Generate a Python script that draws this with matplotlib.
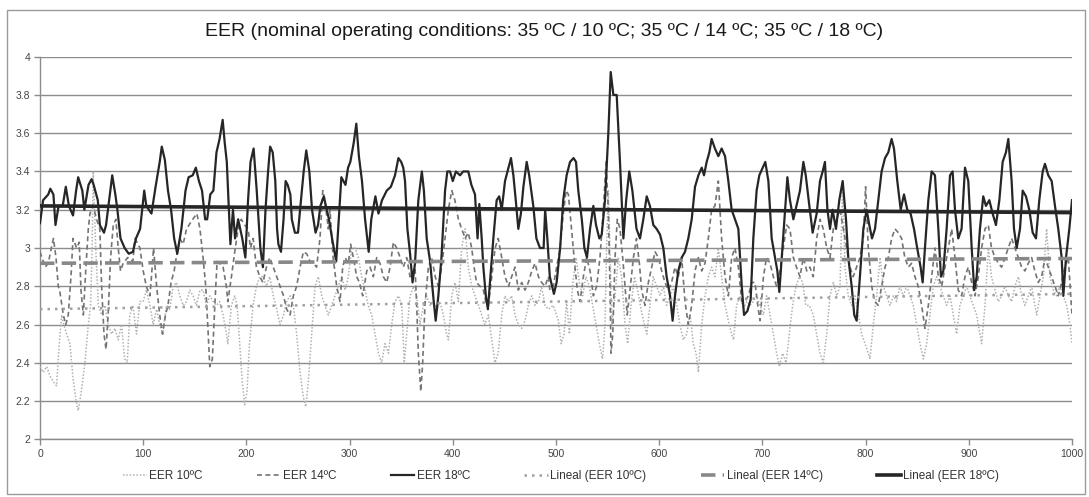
import matplotlib
matplotlib.use("Agg")
import matplotlib.pyplot as plt
from matplotlib.patches import Rectangle

# ---- data (x = sample index, y = EER) ----
EER18 = [(0,3.13),(3,3.25),(8,3.28),(10,3.31),(13,3.28),(15,3.12),(18,3.22),(22,3.22),(25,3.32),(28,3.22),
 (32,3.17),(35,3.30),(37,3.37),(41,3.30),(43,3.20),(47,3.33),(50,3.36),(52,3.33),(54,3.29),(56,3.25),
 (58,3.12),(62,3.08),(64,3.12),(67,3.25),(70,3.38),(73,3.28),(75,3.20),(78,3.05),(82,3.00),(86,2.97),
 (90,2.98),(93,3.05),(97,3.10),(99,3.20),(101,3.30),(103,3.22),(108,3.18),(112,3.32),(116,3.45),(118,3.53),
 (121,3.46),(124,3.30),(127,3.20),(130,3.05),(133,2.97),(137,3.10),(141,3.30),(144,3.37),(148,3.38),(151,3.42),
 (154,3.35),(157,3.30),(160,3.15),(162,3.15),(165,3.28),(168,3.30),(171,3.50),(174,3.57),(177,3.67),(179,3.55),
 (181,3.45),(184.5,3.02),(187,3.20),(189,3.05),(192,3.15),(196,3.05),(199,2.95),(201.6,3.25),(204,3.45),(207,3.52),
 (210,3.30),(213.5,3.00),(216,2.90),(218.5,3.20),(221,3.40),(223,3.53),(225.5,3.50),(228,3.35),(229.7,3.10),(231,3.02),
 (233.5,2.98),(236,3.15),(238,3.35),(240,3.33),(242.6,3.28),(244,3.15),(247,3.08),(250,3.08),(252,3.20),(255.5,3.40),
 (258,3.51),(261,3.40),(263.6,3.20),(267,3.08),(269.4,3.12),(271.7,3.22),(275,3.27),(277,3.22),(280,3.15),(283,3.05),
 (287,2.93),(289.5,3.15),(292,3.37),(296,3.33),(298.5,3.42),(300.7,3.45),(304,3.55),(306.5,3.65),(309,3.48),(312,3.35),
 (315,3.15),(318.5,2.98),(321,3.15),(325,3.27),(328,3.18),(331.4,3.25),(336,3.30),(340,3.32),(344,3.38),(347.3,3.47),
 (350,3.45),(352,3.42),(353.7,3.35),(356,3.10),(358.6,2.97),(361,2.82),(363.4,2.92),(366.6,3.25),(370,3.40),(372,3.30),
 (374.7,3.05),(378,2.93),(381,2.75),(383.4,2.62),(386,2.75),(389,2.95),(392.5,3.30),(394.7,3.40),(397.3,3.40),(400,3.35),
 (403,3.40),(407,3.38),(410,3.40),(415,3.40),(418,3.33),(421.5,3.28),(424,3.05),(425.7,3.23),(428,3.05),(429.6,2.90),
 (432,2.75),(434,2.68),(436,2.82),(439.3,3.05),(442.5,3.25),(445,3.27),(447.4,3.20),(450.6,3.35),(454,3.42),(456.4,3.47),
 (458.7,3.38),(461,3.25),(463.5,3.10),(466,3.18),(468.4,3.32),(471.6,3.45),(474,3.38),(478,3.22),(481,3.05),(484.5,3.00),
 (488,3.00),(489.5,3.20),(491.6,3.05),(494,2.85),(498,2.76),(500.6,2.82),(504,3.00),(507,3.25),(510.3,3.38),(513.6,3.45),
 (517,3.47),(519.4,3.45),(521.6,3.30),(525,3.15),(527.5,3.00),(530,2.95),(533,3.10),(536.2,3.22),(538.8,3.12),(542,3.05),
 (544.3,3.07),(547.5,3.25),(550.7,3.60),(553,3.92),(555.6,3.80),(558.8,3.80),(562,3.45),(565.3,3.05),(568,3.25),(571,3.40),
 (574,3.30),(578,3.10),(581.4,3.05),(584.6,3.15),(587.9,3.27),(591,3.22),(594.3,3.12),(597.5,3.10),(600.8,3.07),(604,3.00),
 (607.2,2.85),(610.5,2.75),(613,2.62),(615.3,2.75),(618.5,2.88),(621.8,2.95),(625,2.98),(628.2,3.05),(631.5,3.15),(634.7,3.32),
 (638,3.38),(641.2,3.42),(643.4,3.38),(646,3.45),(648.6,3.50),(650.8,3.57),(654,3.52),(657.3,3.48),(660.5,3.52),(663.8,3.48),
 (667,3.35),(670.2,3.20),(673.4,3.15),(676.7,3.10),(680,2.80),(682.2,2.65),(685.4,2.67),(688.6,2.73),(691.2,3.05),(694.4,3.30),
 (697,3.38),(700.3,3.42),(702.8,3.45),(705.8,3.35),(709,3.05),(712.2,2.95),(714.5,2.88),(716.4,2.77),(718.7,2.95),(722,3.20),
 (724.2,3.37),(726.7,3.25),(730,3.15),(733,3.22),(736.4,3.30),(739.7,3.45),(742,3.38),(745.5,3.22),(748.7,3.08),(752.6,3.18),
 (755.8,3.35),(758.4,3.40),(760.6,3.45),(763,3.20),(765.5,3.10),(768,3.20),(771.3,3.10),(774.5,3.25),(777.8,3.35),(781,3.15),
 (783.2,2.95),(786.5,2.80),(789,2.65),(791.3,2.62),(794.5,2.85),(797.8,3.10),(801,3.20),(803.6,3.12),(806.2,3.05),(809.1,3.10),
 (812.3,3.25),(815.5,3.40),(818.8,3.47),(822,3.50),(825.2,3.57),(827.5,3.52),(830.7,3.35),(834,3.20),(837.2,3.28),(840.4,3.20),
 (843.6,3.18),(846.9,3.10),(850,3.00),(853.3,2.90),(855.3,2.82),(857.5,3.00),(860.8,3.25),(864,3.40),(867.2,3.38),(870.5,3.10),
 (873,2.85),(875.3,2.88),(878.5,3.10),(881.8,3.38),(884.3,3.40),(886.6,3.20),(889.8,3.05),(893,3.10),(896.3,3.42),(899.5,3.35),
 (902.8,3.00),(905.3,2.78),(907.6,2.85),(910.8,3.10),(914,3.27),(916.6,3.22),(919.9,3.25),(923.1,3.18),(926.3,3.12),(929.6,3.25),
 (932.8,3.45),(936,3.50),(938.3,3.57),(941.5,3.35),(943.8,3.10),(946.4,3.00),(949.6,3.10),(952.2,3.30),(955.4,3.27),(958.6,3.20),
 (961.9,3.08),(965.1,3.05),(968.3,3.25),(971.6,3.40),(973.8,3.44),(977,3.38),(980.3,3.35),(983.5,3.22),(986.7,3.10),(990,2.95),
 (991.6,2.75),(994.2,2.95),(997.4,3.10),(1000,3.25)]

EER14 = [(0,2.98),(5,2.90),(8,2.92),(11,3.00),(13,3.05),(15.5,2.95),(17.7,2.80),(19,2.78),(22.6,2.65),(25,2.60),
 (27.4,2.65),(30,2.85),(32,3.05),(35.5,3.00),(38,3.03),(39.7,2.78),(42,2.65),(44.5,2.90),(46.8,3.10),(48.4,3.18),
 (51.6,3.22),(54.8,3.15),(58,3.10),(59.7,2.80),(62,2.55),(64,2.47),(66,2.65),(68.4,2.95),(71,3.12),(73.5,3.15),
 (75.8,3.00),(78,2.88),(80.6,2.92),(85,2.95),(90,2.93),(92,3.05),(96.8,3.00),(100,2.88),(103,2.80),(106.5,2.75),
 (108,2.85),(110,3.00),(113,2.80),(116,2.65),(118.7,2.55),(121.6,2.65),(124,2.70),(127,2.82),(130,2.88),(132,2.95),
 (135.5,3.05),(138.7,3.02),(142,3.10),(148,3.15),(152,3.18),(155,3.10),(158,2.95),(160.6,2.80),(163,2.55),(164.5,2.38),
 (167,2.42),(169.4,2.70),(171.6,2.93),(174,2.92),(177.4,2.90),(180.6,2.80),(182,2.72),(185.5,2.85),(188.7,2.98),(192,3.10),
 (195,3.15),(198.4,3.12),(201.6,3.10),(204,3.00),(206.5,3.05),(209.7,2.90),(213,2.85),(216,2.82),(219.4,2.90),(222.6,2.95),
 (226,2.90),(229.4,2.85),(232.6,2.80),(236,2.75),(239,2.68),(242.3,2.65),(245.5,2.75),(248.7,2.80),(252,2.90),(255.2,2.98),
 (258.4,2.97),(261.7,2.93),(265,2.92),(268,2.90),(271.3,3.05),(274,3.30),(276,3.25),(279.4,3.10),(281,3.20),(284,2.95),
 (287.5,2.80),(290.7,2.72),(293.3,2.90),(295.6,2.95),(298.8,2.92),(301,3.02),(303.6,2.95),(306.9,2.85),(309.5,2.82),(312.7,2.75),
 (316.6,2.88),(319.8,2.90),(323,2.85),(326.3,2.95),(329.5,2.92),(332.7,2.85),(336,2.82),(339.2,2.90),(342.4,3.03),(345.6,3.00),
 (349,2.95),(352,2.90),(355.3,2.95),(358.6,2.85),(363.4,2.90),(365,2.70),(366.6,2.45),(369,2.25),(370.8,2.40),(373,2.70),
 (376.3,2.90),(379.5,2.95),(383,2.85),(386,2.80),(389.2,2.90),(392.5,3.05),(395.7,3.20),(399,3.30),(402,3.25),(405.4,3.15),
 (408.6,3.10),(412,3.05),(415,3.08),(418.3,3.00),(420.6,2.90),(423,2.82),(426.4,2.80),(429.6,2.78),(432,2.72),(434.5,2.70),
 (437.7,2.85),(441,3.00),(444,3.05),(447.4,2.95),(450.6,2.85),(454,2.80),(457,2.85),(460.3,2.90),(463.5,2.78),(466.8,2.82),
 (470,2.78),(473.2,2.82),(476.5,2.88),(479.7,2.92),(483,2.85),(486,2.82),(489.4,2.80),(492.6,2.85),(494,2.78),(497.4,2.80),
 (500.6,2.90),(504,3.00),(506.5,3.15),(509.7,3.30),(512,3.28),(515,3.10),(518.4,2.90),(520.7,2.78),(523.3,2.72),(526.5,2.85),
 (529.7,2.95),(533,2.88),(536.2,2.75),(539.4,2.80),(542.6,2.95),(545.9,3.20),(548.5,3.45),(550.7,3.20),(552.3,2.80),(553.3,2.45),
 (555,2.55),(557.2,2.95),(559.4,3.15),(562,3.10),(564.6,2.95),(566.9,2.80),(569,2.65),(571.7,2.78),(575,2.95),(578,3.05),
 (580.8,2.92),(583,2.78),(586.2,2.70),(589.5,2.82),(592.7,2.90),(596,2.98),(599.2,2.95),(602.4,2.88),(605.6,2.82),(608.9,2.78),
 (612,2.82),(615.3,2.90),(618.5,2.85),(621.8,2.95),(625,2.72),(628.2,2.60),(631.5,2.70),(634.7,2.88),(638,2.95),(641.2,2.88),
 (644.4,2.92),(647.6,3.05),(650.8,3.20),(654,3.22),(657.3,3.35),(660.5,3.05),(663.8,2.85),(667,2.75),(670.2,2.95),(673.4,3.00),
 (676.7,2.90),(680,2.72),(683.1,2.72),(686.4,2.75),(689.6,2.82),(692.8,2.82),(696,2.68),(697.7,2.62),(701,2.85),(704,2.95),
 (707.4,2.92),(710.6,2.85),(713.8,2.80),(717,2.88),(720.3,3.00),(723.5,3.12),(726.7,3.10),(730,2.95),(733,2.90),(736.4,2.85),
 (739.7,2.95),(743,2.88),(746,2.90),(749.3,2.85),(752.6,3.05),(755.8,3.15),(759,3.10),(762.3,3.00),(765.5,2.95),(768.7,3.10),
 (772,3.15),(775.2,3.20),(778.4,3.10),(781.6,3.00),(784.9,2.90),(788,2.85),(791.3,2.90),(794.5,2.95),(797.8,3.05),(800,3.32),
 (802.6,3.00),(805.9,2.80),(809,2.72),(812.3,2.70),(815.5,2.80),(818.8,2.90),(822,2.95),(825.2,3.05),(828.5,3.10),(831.7,3.08),
 (834.9,3.05),(838,2.95),(841.4,2.90),(844.6,2.92),(847.8,2.85),(851,2.80),(854.3,2.70),(857.5,2.58),(860.8,2.70),(864,2.85),
 (867.2,3.00),(870.5,2.85),(873.7,2.80),(876.9,2.90),(880,3.00),(883.4,3.10),(886.6,2.95),(889.8,2.78),(893,2.75),(896.3,2.85),
 (899.5,2.90),(902.8,2.82),(906,2.75),(909.2,2.85),(912.4,3.00),(915.7,3.10),(918.9,3.12),(922,3.00),(925.4,2.95),(928.6,2.92),
 (931.8,2.90),(935,2.95),(938.3,3.00),(941.5,3.05),(944.7,3.00),(948,2.95),(951.2,2.90),(954.4,2.88),(957.6,2.92),(960.9,2.95),
 (964,2.88),(967.3,2.82),(970.6,2.85),(973.8,2.95),(977,2.90),(980.3,2.85),(983.5,2.80),(986.7,2.75),(990,2.82),(993,2.90),
 (996.4,2.95),(1000,2.65)]

EER10 = [(0,2.38),(3,2.35),(6.5,2.38),(9.7,2.33),(13,2.30),(16,2.28),(18.7,2.50),(21,2.65),(23,2.60),(25.8,2.55),
 (29,2.50),(32,2.32),(35,2.20),(37,2.15),(40,2.25),(43.5,2.40),(46.8,2.60),(49,2.70),(50.5,3.00),(51.6,3.40),
 (54,3.00),(56.5,2.70),(59.7,2.65),(63,2.70),(66,2.60),(69.4,2.55),(72.6,2.58),(75.8,2.52),(79,2.60),(82,2.42),
 (84.5,2.40),(87,2.65),(90,2.70),(93.5,2.55),(96.8,2.72),(100,2.72),(103,2.78),(106.5,2.70),(109.7,2.60),(113,2.68),
 (116,2.60),(119,2.55),(122.5,2.70),(125.8,2.68),(129,2.80),(132.2,2.82),(135.5,2.75),(138.7,2.70),(142,2.72),(145,2.78),
 (148.4,2.75),(151.6,2.70),(155,2.78),(158,2.78),(161.3,2.70),(164.5,2.75),(167.8,2.72),(171,2.70),(174,2.72),(177.4,2.65),
 (180.6,2.55),(182,2.50),(185.5,2.70),(188.7,2.75),(191,2.70),(193.5,2.50),(196,2.30),(198.4,2.18),(200.6,2.25),(203,2.50),
 (206.5,2.70),(209.7,2.80),(213,2.85),(216,2.85),(219.4,2.80),(222.6,2.85),(226,2.75),(229.4,2.68),(232.6,2.60),(236,2.65),
 (239,2.72),(242.3,2.75),(245.5,2.70),(248.7,2.55),(252,2.35),(255.2,2.22),(257.5,2.17),(260,2.30),(263.3,2.55),(266.5,2.80),
 (269.7,2.85),(273,2.75),(276,2.70),(279.4,2.65),(282.6,2.70),(285.9,2.75),(289,2.80),(292.3,2.85),(295.6,2.78),(298.8,2.85),
 (302,3.00),(305.3,3.00),(308.5,2.95),(311.7,2.85),(315,2.78),(318,2.70),(321.4,2.65),(324.6,2.55),(328,2.45),(331,2.40),
 (334.3,2.50),(337.6,2.45),(340.8,2.60),(344,2.72),(347.3,2.75),(350.5,2.70),(353,2.40),(355.3,2.55),(358.6,2.75),(362,2.80),
 (365,2.75),(368.2,2.60),(371.5,2.70),(374.7,2.75),(378,2.70),(381,2.72),(384.4,2.68),(387.6,2.72),(390.8,2.65),(394,2.55),
 (395.7,2.52),(399,2.75),(402,2.82),(405.4,2.72),(408.6,3.00),(412,3.10),(415,2.90),(418.3,2.80),(421.5,2.75),(425,2.70),
 (428,2.65),(431,2.60),(434.5,2.65),(437.7,2.52),(441,2.40),(444,2.45),(447.4,2.65),(450.6,2.75),(454,2.72),(457,2.75),
 (460.3,2.65),(463.5,2.60),(466.8,2.58),(470,2.62),(473.2,2.70),(476.5,2.75),(479.7,2.70),(483,2.72),(486,2.80),(489.4,2.70),
 (492.6,2.68),(497.4,2.70),(502.3,2.62),(505,2.50),(507.8,2.55),(510.3,2.72),(513,2.55),(516,2.80),(519.4,2.95),(522.6,2.82),
 (525.8,2.75),(529,2.85),(532.3,2.80),(535.5,2.70),(538.8,2.60),(542,2.50),(545,2.42),(547.5,2.60),(549,3.00),(550.7,3.30),
 (552.3,3.00),(554,2.60),(557.2,2.75),(560.4,2.95),(563.6,2.85),(566.9,2.60),(569.4,2.50),(572.7,2.70),(576,2.85),(579,2.78),
 (582.4,2.68),(585.6,2.60),(588,2.55),(591,2.70),(594.3,2.85),(597.5,2.80),(600.8,2.75),(604,2.80),(607.2,2.70),(610.5,2.75),
 (613.7,2.80),(617,2.70),(620,2.60),(623.4,2.52),(626.6,2.55),(630,2.65),(633,2.50),(635.7,2.45),(638,2.35),(641.2,2.60),
 (644.4,2.75),(647.6,2.85),(650.8,2.90),(654,2.85),(657.3,3.00),(660.5,2.85),(663.8,2.70),(667,2.62),(670.2,2.55),(672,2.52),
 (675,2.70),(678.3,2.75),(681.5,2.68),(684.8,2.72),(688,2.70),(691.2,2.72),(694.4,2.75),(697.7,2.70),(701,2.65),(704,2.75),
 (707.4,2.65),(710.6,2.55),(713.8,2.45),(716.4,2.38),(719.6,2.45),(722.9,2.40),(726,2.55),(729.3,2.70),(732.6,2.80),(735.8,2.85),
 (739,2.82),(742,2.70),(745.5,2.70),(749.3,2.65),(752.6,2.55),(755.8,2.45),(759,2.40),(762.3,2.55),(765.5,2.75),(768.7,2.82),
 (772,2.75),(775.2,2.80),(777.8,3.35),(780,2.90),(783.2,2.75),(786.5,2.70),(789.7,2.75),(793,2.65),(796.2,2.55),(799.4,2.50),
 (802.6,2.45),(804.2,2.42),(807.5,2.60),(810.7,2.75),(814,2.95),(817.2,2.80),(820.4,2.75),(823.6,2.70),(827,2.75),(830,2.72),
 (833.3,2.80),(836.5,2.75),(839.8,2.80),(843,2.75),(846.2,2.70),(849.5,2.60),(852.7,2.50),(856,2.42),(859.1,2.50),(862.4,2.65),
 (865.6,2.80),(868.8,2.85),(872,2.80),(875.3,2.75),(878.5,2.70),(881.8,2.75),(885,2.65),(888.2,2.55),(891.4,2.70),(894.7,2.75),
 (898,2.80),(901,2.75),(904.4,2.70),(907.6,2.65),(910.8,2.55),(912.4,2.50),(915.7,2.70),(918.9,3.00),(922,2.85),(925.4,2.78),
 (928.6,2.72),(931.8,2.75),(935,2.80),(938.3,2.75),(941.5,2.72),(944.7,2.80),(948,2.85),(951.2,2.75),(954.4,2.70),(957.6,2.75),
 (960.9,2.80),(964,2.70),(965.8,2.65),(969,2.75),(972.2,2.85),(975.4,3.10),(978.6,2.85),(981.9,2.78),(985,2.75),(988.3,2.80),
 (991.6,2.75),(994.8,2.70),(998,2.60),(1000,2.50)]

# linear trend lines (start/end values)
TREND_X = [0, 1000]
TREND10 = [2.68, 2.76]
TREND14 = [2.92, 2.945]
TREND18 = [3.22, 3.185]

TITLE = "EER (nominal operating conditions: 35 ºC / 10 ºC; 35 ºC / 14 ºC; 35 ºC / 18 ºC)"
LABELS = ["EER 10ºC", "EER 14ºC", "EER 18ºC",
          "Lineal (EER 10ºC)", "Lineal (EER 14ºC)", "Lineal (EER 18ºC)"]
Y_TICKS = [2, 2.2, 2.4, 2.6, 2.8, 3, 3.2, 3.4, 3.6, 3.8, 4]
Y_TICK_LABELS = ["2", "2.2", "2.4", "2.6", "2.8", "3", "3.2", "3.4", "3.6", "3.8", "4"]
X_TICKS = list(range(0, 1001, 100))

plt.rcParams['font.family'] = ['Liberation Sans', 'DejaVu Sans']

W, H = 1089, 497
fig = plt.figure(figsize=(W / 100, H / 100), dpi=100)
fig.patch.set_facecolor('white')

# outer chart border
fig.add_artist(Rectangle((7 / W, 3 / H), (1085 - 7) / W, (487 - 3) / H,
                         transform=fig.transFigure, fill=False,
                         edgecolor='#9a9a9a', linewidth=1.0))

ax = fig.add_axes([40 / W, 1 - 439.3 / H, (1072 - 40) / W, (439.3 - 56.7) / H])

x10, y10 = zip(*EER10)
x14, y14 = zip(*EER14)
x18, y18 = zip(*EER18)

ax.plot(x10, y10, linestyle=(0, (1, 1.2)), color='#b0b0b0', lw=1.1, label=LABELS[0], zorder=3)
ax.plot(x14, y14, linestyle=(0, (3, 2)), color='#747474', lw=1.2, label=LABELS[1], zorder=4)
ax.plot(x18, y18, linestyle='-', color='#262626', lw=1.6, label=LABELS[2], zorder=5)

ax.plot(TREND_X, TREND10, linestyle=(0, (1, 2)), color='#a0a0a0', lw=1.8, label=LABELS[3], zorder=6)
ax.plot(TREND_X, TREND14, linestyle=(0, (4, 2)), color='#888888', lw=2.6, label=LABELS[4], zorder=6)
ax.plot(TREND_X, TREND18, linestyle='-', color='#262626', lw=2.6, label=LABELS[5], zorder=7)

ax.set_xlim(0, 1000)
ax.set_ylim(2, 4)
ax.set_yticks(Y_TICKS)
ax.set_yticklabels(Y_TICK_LABELS)
ax.set_xticks(X_TICKS)
ax.set_xticklabels([str(t) for t in X_TICKS])

ax.grid(axis='y', color='#8c8c8c', lw=1.0, zorder=0)
ax.set_axisbelow(True)
for s in ['top', 'right']:
    ax.spines[s].set_visible(False)
for s in ['left', 'bottom']:
    ax.spines[s].set_color('#8c8c8c')
    ax.spines[s].set_linewidth(1.0)
ax.tick_params(axis='both', direction='out', length=4, width=1, color='#8c8c8c',
               labelsize=7.5, labelcolor='#444444', pad=3)

fig.text(0.5, 1 - 32 / H, TITLE, ha='center', va='center', fontsize=14, color='#1a1a1a')

handles, labels = ax.get_legend_handles_labels()
fig.legend(handles, labels, loc='center', bbox_to_anchor=(561 / W, 1 - 476 / H), ncol=6,
           frameon=False, fontsize=8.5, handlelength=2.0, handletextpad=0.2,
           columnspacing=4.6, labelcolor='#333333')

fig.savefig('out.png', dpi=100, facecolor='white')
